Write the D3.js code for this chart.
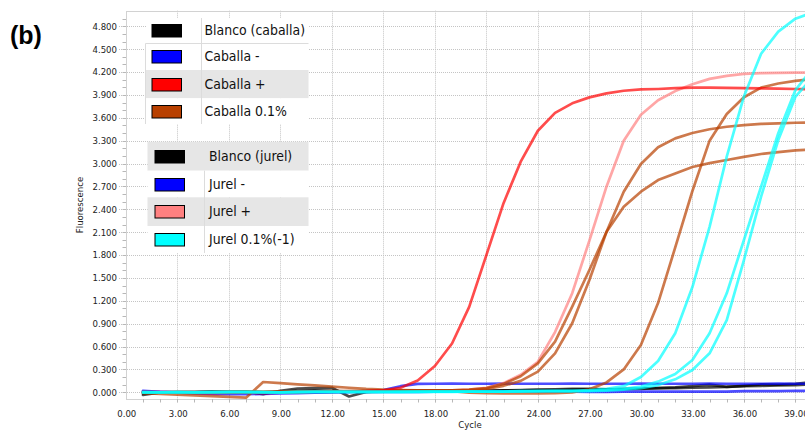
<!DOCTYPE html>
<html>
<head>
<meta charset="utf-8">
<script src="https://cdn.jsdelivr.net/npm/d3@7/dist/d3.min.js"></script>
<style>
  html, body { margin: 0; padding: 0; background: #ffffff; }
  svg { display: block; }
</style>
</head>
<body>
<script>
// qPCR amplification curves: fluorescence per cycle

const cycles = [1,2,3,4,5,6,7,8,9,10,11,12,13,14,15,16,17,18,19,20,
                21,22,23,24,25,26,27,28,29,30,31,32,33,34,35,36,37,38,39,40];

const blancoCaballa = [-35,0,5,5,10,10,10,-25,20,50,55,60,-55,5,15,20,25,25,25,20,
                       20,25,30,35,40,45,45,40,40,45,55,65,80,100,70,85,105,100,110,135];
const caballaNeg = [20,5,-5,-15,-20,-25,-25,-20,-15,-10,-5,0,5,15,30,80,110,112,113,112,
                    112,113,112,112,112,113,112,112,112,113,112,112,112,113,112,112,112,113,112,112];
const caballaPos = [5,0,-5,-5,-10,-5,-5,-10,-5,0,5,5,10,15,25,60,155,345,640,1120,
                    1800,2480,3025,3430,3665,3790,3868,3920,3955,3972,3978,3988,3995,3995,3992,3988,3985,3982,3978,3975];
const caballa01_r1 = [0,-5,-5,-5,0,0,5,5,5,10,10,10,15,15,15,20,20,20,25,30,
                      45,85,150,271,511,905,1473,2106,2631,2994,3213,3330,3400,3450,3483,3505,3520,3528,3535,3540];
const caballa01_r2 = [0,0,-5,0,0,5,5,5,10,10,10,15,15,15,20,20,20,25,25,35,
                      55,110,210,380,664,1123,1604,2106,2434,2631,2784,2870,2955,3005,3047,3088,3125,3150,3172,3185];
const caballa01_r3 = [-10,-20,-30,-40,-50,-60,-70,135,120,105,90,75,60,45,35,30,25,20,15,-5,
                      -10,-15,-15,-15,-10,0,40,130,300,620,1170,1900,2640,3300,3650,3870,3995,4050,4085,4105];

const blancoJurel = [-15,-5,0,0,5,5,5,0,10,20,25,20,10,5,10,15,15,15,20,20,
                     20,25,25,30,30,35,40,40,45,50,55,55,60,65,70,80,85,90,95,105];
const jurelNeg = [10,5,0,-5,-5,-5,-5,-5,0,0,0,5,5,5,5,5,5,10,10,10,
                  10,10,10,10,10,10,5,5,10,10,10,10,10,10,10,15,15,15,20,20];
const jurelPos = [0,5,5,0,0,5,5,0,5,5,10,10,10,15,15,15,20,20,25,35,
                  60,120,230,400,790,1300,1990,2700,3300,3640,3830,3950,4040,4110,4150,4175,4185,4190,4192,4192];
const jurel01_r1 = [-5,0,0,0,0,5,5,0,0,5,5,5,5,5,5,5,5,5,5,10,
                    10,10,15,15,20,20,30,45,80,200,410,775,1380,2170,3090,3880,4440,4730,4900,4980];
const jurel01_r2 = [0,0,5,0,0,0,5,5,0,0,5,5,5,5,5,5,5,10,10,10,
                    10,10,10,15,15,15,20,30,45,75,140,240,424,774,1298,1997,2697,3397,3964,4250];
const jurel01_r3 = [5,0,0,0,5,5,0,0,0,5,5,5,5,5,5,5,10,10,10,10,
                    10,10,15,15,15,15,15,20,35,55,95,170,292,511,948,1735,2565,3309,3877,4130];

const xTickValues = [0,3,6,9,12,15,18,21,24,27,30,33,36,39];
const yTickValues = [0,300,600,900,1200,1500,1800,2100,2400,2700,3000,3300,3600,3900,4200,4500,4800];

const legendCaballaNames = ["Blanco (caballa)", "Caballa -", "Caballa +", "Caballa 0.1%"];
const legendJurelNames = ["Blanco (jurel)", "Jurel -", "Jurel +", "Jurel 0.1%(-1)"];
const colBlack = "#000000", colBlue = "#0000ff", colRed = "#ff0000",
      colBrown = "#b84000", colPink = "#ff8080", colCyan = "#00ffff";
const legendCaballaColors = [colBlack, colBlue, colRed, colBrown];
const legendJurelColors = [colBlack, colBlue, colPink, colCyan];

// drawing order of the curves (later ones on top)
const curves = [
  { values: blancoCaballa, color: colBlack },
  { values: blancoJurel, color: colBlack },
  { values: caballaNeg, color: colBlue },
  { values: jurelNeg, color: colBlue },
  { values: jurelPos, color: colPink },
  { values: caballa01_r1, color: colBrown },
  { values: caballa01_r2, color: colBrown },
  { values: caballa01_r3, color: colBrown },
  { values: caballaPos, color: colRed },
  { values: jurel01_r1, color: colCyan },
  { values: jurel01_r2, color: colCyan },
  { values: jurel01_r3, color: colCyan }
];

const W = 805, H = 434;
const plot = { left: 126, top: 10.7, bottom: 399.3, right: 840 };

const x = d3.scaleLinear().domain([0, 40]).range([125.8, 125.8 + 40 * 17.17]);
const y = d3.scaleLinear().domain([0, 4800]).range([392.3, 26.3]);

const fontTick = "'DejaVu Sans Condensed', 'DejaVu Sans', sans-serif";

const svg = d3.select("body").append("svg")
  .attr("width", W).attr("height", H)
  .attr("viewBox", `0 0 ${W} ${H}`);

svg.append("defs").append("clipPath").attr("id", "plotClip")
  .append("rect")
  .attr("x", plot.left).attr("y", plot.top)
  .attr("width", plot.right - plot.left).attr("height", plot.bottom - plot.top);

// panel label
svg.append("text")
  .attr("x", 10).attr("y", 44)
  .attr("font-family", "'Liberation Sans', Arial, sans-serif")
  .attr("font-weight", "bold").attr("font-size", 25)
  .attr("fill", "#000")
  .text("(b)");

// grid lines
const grid = svg.append("g");
grid.selectAll("line.hg").data(yTickValues).join("line")
  .attr("x1", 119).attr("x2", plot.right)
  .attr("y1", d => Math.round(y(d)) + 0.5).attr("y2", d => Math.round(y(d)) + 0.5)
  .attr("stroke", "#c4c4c4").attr("stroke-width", 1).attr("stroke-dasharray", "1,1");
grid.selectAll("line.vg").data(xTickValues.filter(d => d > 0)).join("line")
  .attr("x1", d => Math.round(x(d)) + 0.5).attr("x2", d => Math.round(x(d)) + 0.5)
  .attr("y1", plot.top).attr("y2", 403)
  .attr("stroke", "#c4c4c4").attr("stroke-width", 1).attr("stroke-dasharray", "1,1");

// plot frame
svg.append("rect")
  .attr("x", plot.left + 0.5).attr("y", Math.round(plot.top) + 0.5)
  .attr("width", plot.right - plot.left).attr("height", Math.round(plot.bottom) - Math.round(plot.top))
  .attr("fill", "none").attr("stroke", "#d2d2d2").attr("stroke-width", 1);

// minor ticks
const yMinor = d3.range(0, 4901, 100);
svg.append("g").selectAll("line").data(yMinor).join("line")
  .attr("x1", 122.5).attr("x2", 126)
  .attr("y1", d => Math.round(y(d)) + 0.5).attr("y2", d => Math.round(y(d)) + 0.5)
  .attr("stroke", "#b8b8b8");
const xMinor = d3.range(1, 40, 1);
svg.append("g").selectAll("line").data(xMinor).join("line")
  .attr("x1", d => Math.round(x(d)) + 0.5).attr("x2", d => Math.round(x(d)) + 0.5)
  .attr("y1", 399).attr("y2", 402.5)
  .attr("stroke", "#b8b8b8");

// tick labels
const fmtY = v => d3.format(".3f")(v / 1000);
const fmtX = d3.format(".2f");
svg.append("g").selectAll("text").data(yTickValues).join("text")
  .attr("x", 117).attr("y", d => y(d) + 3.4)
  .attr("text-anchor", "end")
  .attr("font-family", fontTick).attr("font-size", 9.5).attr("fill", "#222")
  .text(fmtY);
svg.append("g").selectAll("text").data(xTickValues).join("text")
  .attr("x", d => x(d) + 1).attr("y", 416.5)
  .attr("text-anchor", "middle")
  .attr("font-family", fontTick).attr("font-size", 9.5).attr("fill", "#222")
  .text(fmtX);

// axis titles
svg.append("text")
  .attr("transform", "translate(83,205) rotate(-90)")
  .attr("text-anchor", "middle")
  .attr("font-family", fontTick).attr("font-size", 9.5).attr("fill", "#222")
  .text("Fluorescence");
svg.append("text")
  .attr("x", 470).attr("y", 428)
  .attr("text-anchor", "middle")
  .attr("font-family", fontTick).attr("font-size", 9.5).attr("fill", "#222")
  .text("Cycle");

// curves
const line = d3.line()
  .x((d, i) => x(cycles[i]))
  .y(d => y(d));
svg.append("g").attr("clip-path", "url(#plotClip)")
  .selectAll("path").data(curves).join("path")
  .attr("d", d => line(d.values))
  .attr("fill", "none")
  .attr("stroke", d => d.color)
  .attr("stroke-opacity", 0.7)
  .attr("stroke-width", 2.7)
  .attr("stroke-linejoin", "round")
  .attr("stroke-linecap", "round");

// legends
function drawLegend(cfg) {
  const g = svg.append("g");
  cfg.names.forEach((name, i) => {
    const top = cfg.rows[i], bot = cfg.rows[i + 1];
    g.append("rect")
      .attr("x", cfg.left).attr("y", top)
      .attr("width", cfg.right - cfg.left).attr("height", bot - top)
      .attr("fill", cfg.shaded[i] ? "#e6e6e6" : "#ffffff");
    const cy = (top + bot) / 2;
    g.append("rect")
      .attr("x", cfg.swX + 0.5).attr("y", Math.round(cy - 6.5) + 0.5)
      .attr("width", 29.5).attr("height", 12.5)
      .attr("fill", cfg.colors[i]).attr("stroke", "#000").attr("stroke-width", 1);
    g.append("text")
      .attr("x", cfg.textX).attr("y", cy + 4.8)
      .attr("font-family", fontTick).attr("font-size", 13.9).attr("fill", "#111")
      .text(name);
  });
  cfg.lines.forEach(l => {
    g.append("line")
      .attr("x1", l[0]).attr("y1", l[1]).attr("x2", l[2]).attr("y2", l[3])
      .attr("stroke", "#dcdcdc").attr("stroke-width", 1);
  });
}

drawLegend({
  names: legendCaballaNames, colors: legendCaballaColors,
  left: 146, right: 308.5,
  rows: [18, 43.3, 70, 98.3, 124],
  shaded: [false, false, true, false],
  swX: 151.5, textX: 204.5,
  lines: [[145.5, 43.5, 308.5, 43.5], [145.5, 43.5, 145.5, 124], [201.5, 18, 201.5, 124]]
});
drawLegend({
  names: legendJurelNames, colors: legendJurelColors,
  left: 147.5, right: 308.5,
  rows: [141.7, 170.7, 197.3, 226, 253],
  shaded: [true, false, true, false],
  swX: 154.5, textX: 209,
  lines: [[204.5, 170.7, 204.5, 253]]
});
</script>
</body>
</html>
